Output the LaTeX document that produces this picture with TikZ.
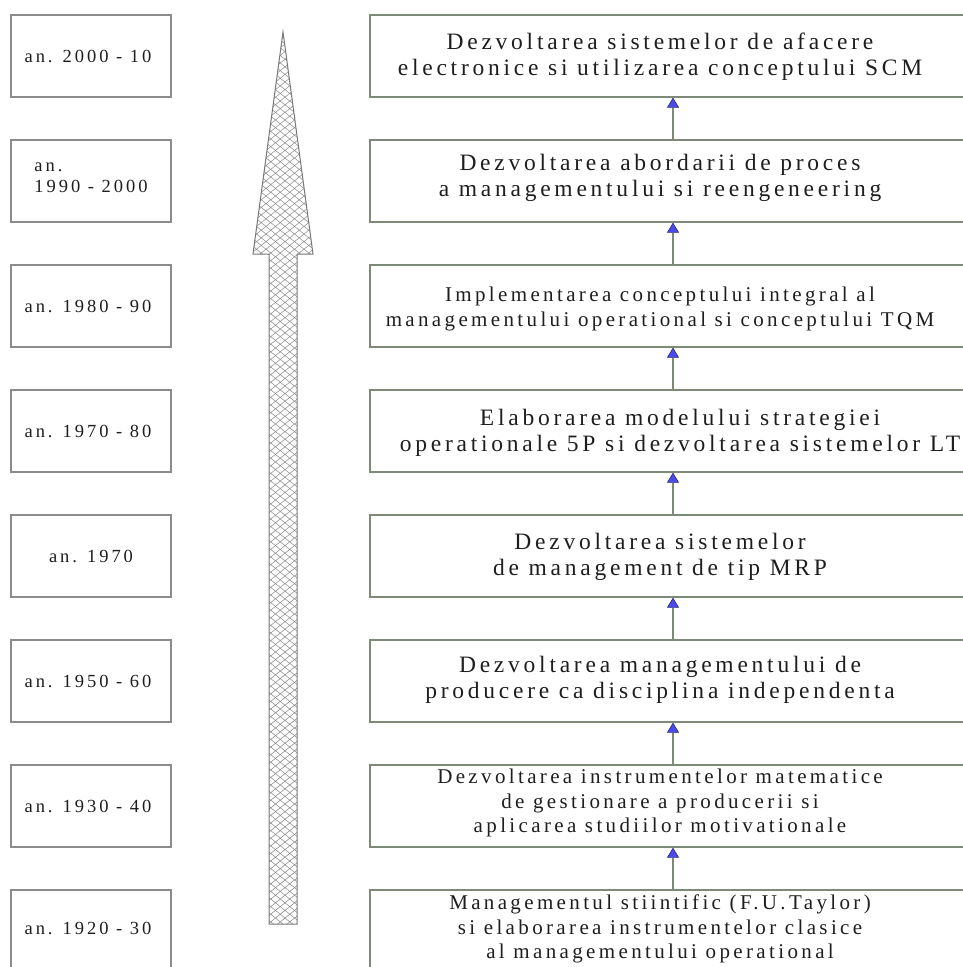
\documentclass[tikz,border=0pt]{standalone}
\usepackage{fontspec}
\setmainfont{Liberation Serif}[LetterSpace=16]
\usetikzlibrary{arrows.meta}

\definecolor{yearline}{RGB}{140,140,140}
\definecolor{stageline}{RGB}{125,138,120}
\definecolor{tipblue}{RGB}{75,75,235}
\definecolor{tipedge}{RGB}{40,40,120}
\definecolor{hatchgray}{RGB}{120,120,120}
\definecolor{textgray}{RGB}{30,30,30}

\tikzset{
  yearbox/.style={draw=yearline, line width=1.2pt, minimum width=160pt,
    minimum height=82pt, inner sep=0pt},
  stagebox/.style={draw=stageline, line width=1.3pt, minimum width=606pt,
    minimum height=82pt, inner sep=0pt},
  yeartext/.style={text=textgray, font=\fontsize{18.5}{21}\selectfont, align=left, inner sep=0pt},
  stagetext/.style={text=textgray, font=\fontsize{23.5}{26}\selectfont, align=center, inner sep=0pt},
  stagesmall/.style={stagetext, font=\fontsize{21}{24.5}\selectfont},
  link/.style={draw=stageline, line width=1.2pt,
    -{Triangle[width=12pt,length=10pt,fill=tipblue,color=tipedge,line width=0.6pt]}},
  hatch/.style={draw=hatchgray, line width=0.45pt},
  bigarrow/.style={draw=hatchgray, line width=1pt},
}

\begin{document}
\begin{tikzpicture}[x=1pt,y=-1pt]
\useasboundingbox (0,0) rectangle (963,967);

% year boxes (left column)
\node[yearbox] (y1) at (91,56)  {};
\node[yearbox] (y2) at (91,181) {};
\node[yearbox] (y3) at (91,306) {};
\node[yearbox] (y4) at (91,431) {};
\node[yearbox] (y5) at (91,556) {};
\node[yearbox] (y6) at (91,681) {};
\node[yearbox] (y7) at (91,806) {};
\node[yearbox] (y8) at (91,931) {};

\node[yeartext] (yt1) at (88,56)  {an. 2000 - 10};
\node[yeartext] (yt2) at (91,178) {an.\\1990 - 2000};
\node[yeartext] (yt3) at (88,306) {an. 1980 - 90};
\node[yeartext] (yt4) at (88,431) {an. 1970 - 80};
\node[yeartext] (yt5) at (91,556) {an. 1970};
\node[yeartext] (yt6) at (88,681) {an. 1950 - 60};
\node[yeartext] (yt7) at (88,806) {an. 1930 - 40};
\node[yeartext] (yt8) at (88,928) {an. 1920 - 30};

% stage boxes (right column, running past the right edge)
\node[stagebox] (s1) at (673,56)  {};
\node[stagebox] (s2) at (673,181) {};
\node[stagebox] (s3) at (673,306) {};
\node[stagebox] (s4) at (673,431) {};
\node[stagebox] (s5) at (673,556) {};
\node[stagebox] (s6) at (673,681) {};
\node[stagebox] (s7) at (673,806) {};
\node[stagebox] (s8) at (673,931) {};

\node[stagetext]  (st1) at (660,57)  {Dezvoltarea sistemelor de afacere\\electronice si utilizarea conceptului SCM};
\node[stagetext]  (st2) at (660,178) {Dezvoltarea abordarii de proces\\a managementului si reengeneering};
\node[stagesmall] (st3) at (660,309) {Implementarea conceptului integral al\\managementului operational si conceptului TQM};
\node[stagetext]  (st4) at (680,433) {Elaborarea modelului strategiei\\operationale 5P si dezvoltarea sistemelor LT};
\node[stagetext]  (st5) at (660,557) {Dezvoltarea sistemelor\\de management de tip MRP};
\node[stagetext]  (st6) at (660,680) {Dezvoltarea managementului de\\producere ca disciplina independenta};
\node[stagesmall] (st7) at (660,803) {Dezvoltarea instrumentelor matematice\\de gestionare a producerii si\\aplicarea studiilor motivationale};
\node[stagesmall] (st8) at (660,929) {Managementul stiintific (F.U.Taylor)\\si elaborarea instrumentelor clasice\\al managementului operational};

% links between consecutive stages
\foreach \a/\b in {s8/s7,s7/s6,s6/s5,s5/s4,s4/s3,s3/s2,s2/s1}
  \draw[link] (\a.north) -- (\b.south);

% large cross-hatched arrow showing the time direction
\begin{scope}
  \clip (283,32) -- (313,254) -- (297,254) -- (297,924) -- (269,924)
        -- (269,254) -- (253,254) -- cycle;
  \foreach \c in {-910,-900.5,...,320}
    \draw[hatch] (\c,0) -- ++(1200,960);
  \foreach \c in {245,254.5,...,1475}
    \draw[hatch] (\c,0) -- ++(-1200,960);
\end{scope}
\draw[bigarrow] (283,32) -- (313,254) -- (297,254) -- (297,924) -- (269,924)
        -- (269,254) -- (253,254) -- cycle;

\end{tikzpicture}
\end{document}
